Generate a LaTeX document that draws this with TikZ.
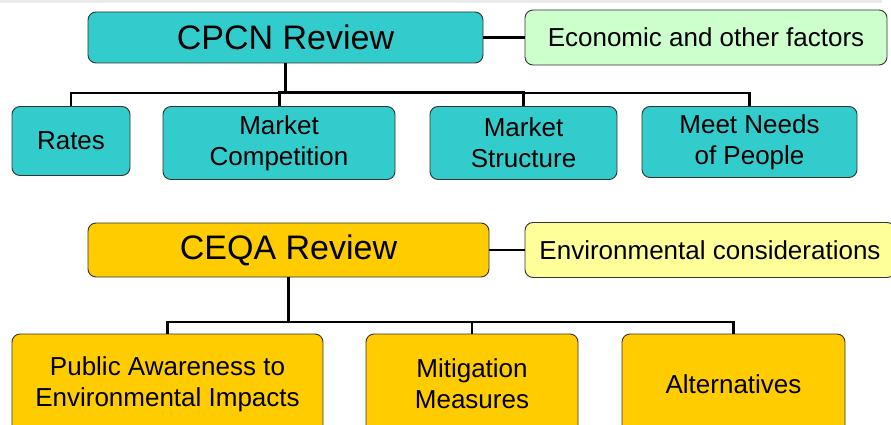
\documentclass[tikz,border=0pt]{standalone}
\usepackage{fontspec}
\setmainfont{Liberation Sans}
\definecolor{tealbox}{HTML}{33CCCC}
\definecolor{greenbox}{HTML}{CCFFCC}
\definecolor{goldbox}{HTML}{FFCC00}
\definecolor{yellowbox}{HTML}{FFFF99}
\begin{document}
\begin{tikzpicture}[x=1pt,y=-1pt]
        \tikzstyle{box}=[rectangle,rounded corners=8pt,draw=black!80,line width=0.9pt,inner sep=0pt,align=center,font=\fontsize{26}{31}\selectfont]
        \tikzstyle{head}=[box,font=\fontsize{34}{41}\selectfont]
        \tikzstyle{trunk}=[draw,line width=3pt]
        \tikzstyle{bus}=[draw,line width=2.2pt]
        \useasboundingbox (0,0) rectangle (891,425);
        \fill[black!8] (0,0) rectangle (882,3);
       \begin{scope}
         % CPCN branch
         \node [head,fill=tealbox,minimum width=395pt,minimum height=51pt] (cpcn) at (285.5,37.5) {CPCN Review};
         \node [box,fill=greenbox,minimum width=362pt,minimum height=55pt] (econ) at (706,37.5) {Economic and other factors};
         \node [box,fill=tealbox,minimum width=118pt,minimum height=69pt] (rates) at (71,141) {Rates};
         \node [box,fill=tealbox,minimum width=232pt,minimum height=73pt] (mcomp) at (279,143) {Market\\Competition};
         \node [box,fill=tealbox,minimum width=187pt,minimum height=73pt] (mstruct) at (523.5,143) {Market\\Structure};
         \node [box,fill=tealbox,minimum width=215pt,minimum height=71pt] (needs) at (749.5,142) {Meet Needs\\of People};
         \coordinate (cbus) at (cpcn.south |- 0,93);
         \path[bus] (cpcn.east) -- (econ.west);
         \path[trunk] (cpcn.south) -- (cbus);
         \path[bus] (cbus) -| (rates.north);
         \path[bus] (cbus) -| (needs.north);
         \path[trunk] (cbus) -| (mcomp.north);
         \path[trunk] (cbus) -| (mstruct.north);
        \end{scope}
       \begin{scope}
         % CEQA branch
         \node [head,fill=goldbox,minimum width=401pt,minimum height=54pt] (ceqa) at (288.5,250) {CEQA Review};
         \node [box,fill=yellowbox,minimum width=370pt,minimum height=55pt] (env) at (710,250) {Environmental considerations};
         \node [box,fill=goldbox,minimum width=311pt,minimum height=100pt] (aware) at (167.5,384) {Public Awareness to\\Environmental Impacts};
         \node [box,fill=goldbox,minimum width=212pt,minimum height=100pt] (mitig) at (472,384) {Mitigation\\Measures};
         \node [box,fill=goldbox,minimum width=223pt,minimum height=100pt] (alts) at (733.5,384) {Alternatives};
         \coordinate (ebus) at (ceqa.south |- 0,322);
         \path[bus] (ceqa.east) -- (env.west);
         \path[trunk] (ceqa.south) -- (ebus);
         \path[bus] (ebus) -| (aware.north);
         \path[bus] (ebus) -| (mitig.north);
         \path[bus] (ebus) -| (alts.north);
        \end{scope}
      \end{tikzpicture}
\end{document}
